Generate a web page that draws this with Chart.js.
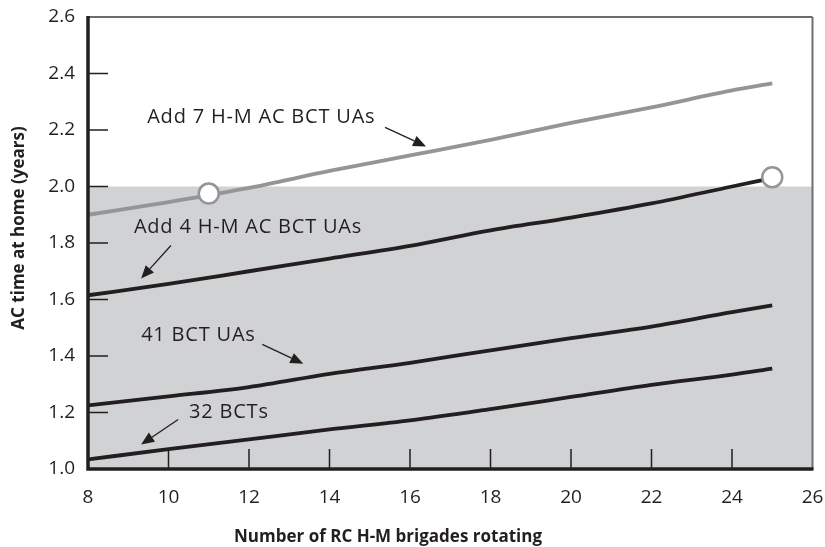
<!DOCTYPE html>
<html>
<head>
<meta charset="utf-8">
<script src="https://cdn.jsdelivr.net/npm/chart.js@4/dist/chart.umd.min.js"></script>
<style>
  html, body { margin: 0; padding: 0; background: #fff; }
  #wrap { width: 825px; height: 547px; }
</style>
</head>
<body>
<div id="wrap"><canvas id="acChart"></canvas></div>
<script>
// data
const brigades = [8, 10, 12, 14, 16, 18, 20, 22, 24, 25];
const add7 = [1.90, 1.945, 1.995, 2.055, 2.11, 2.165, 2.225, 2.28, 2.34, 2.365];
const add4 = [1.615, 1.655, 1.70, 1.745, 1.79, 1.845, 1.89, 1.94, 2.00, 2.03];
const bct41 = [1.225, 1.257, 1.29, 1.337, 1.376, 1.42, 1.463, 1.504, 1.555, 1.579];
const bct32 = [1.034, 1.07, 1.105, 1.14, 1.172, 1.212, 1.255, 1.298, 1.334, 1.355];
const markerX = [11, 25];
const markerY = [1.975, 2.033];
const xTicks = [8, 10, 12, 14, 16, 18, 20, 22, 24, 26];
const yTicks = [1.0, 1.2, 1.4, 1.6, 1.8, 2.0, 2.2, 2.4, 2.6];
const shadeRange = [1.0, 2.0];

// labels with arrows, placed in data units
const notes = [
  { text: "Add 7 H-M AC BCT UAs", x: 9.47, y: 2.244, from: [15.38, 2.209], to: [16.40, 2.142] },
  { text: "Add 4 H-M AC BCT UAs", x: 9.14, y: 1.855, from: [10.06, 1.791], to: [9.32, 1.674] },
  { text: "41 BCT UAs", x: 9.32, y: 1.473, from: [12.33, 1.441], to: [13.35, 1.373] },
  { text: "32 BCTs", x: 10.51, y: 1.20, from: [10.24, 1.175], to: [9.32, 1.087] }
];

const ink = "#231f20";
const font = "'Open Sans', sans-serif";

function pts(ys) {
  return brigades.map((b, i) => ({ x: b, y: ys[i] }));
}

function lineSet(label, ys, color) {
  return {
    label: label,
    data: pts(ys),
    borderColor: color,
    borderWidth: 3.8,
    pointRadius: 0,
    fill: false,
    cubicInterpolationMode: "monotone",
    order: 1
  };
}

const decor = {
  id: "decor",
  beforeDatasetsDraw(chart) {
    const { ctx, chartArea: a, scales: { x, y } } = chart;
    ctx.save();
    const top = y.getPixelForValue(shadeRange[1]);
    const bot = y.getPixelForValue(shadeRange[0]);
    ctx.fillStyle = "#d1d2d4";
    ctx.fillRect(a.left, top, a.right - a.left, bot - top);

    // inward tick marks
    ctx.strokeStyle = ink;
    ctx.lineWidth = 1.5;
    ctx.beginPath();
    xTicks.slice(1, -1).forEach(v => {
      const px = x.getPixelForValue(v);
      ctx.moveTo(px, a.bottom);
      ctx.lineTo(px, a.bottom - 20);
    });
    yTicks.slice(1, -1).forEach(v => {
      const py = y.getPixelForValue(v);
      ctx.moveTo(a.left, py);
      ctx.lineTo(a.left + 20, py);
    });
    ctx.stroke();
    ctx.restore();
  },
  afterDraw(chart) {
    const { ctx, chartArea: a, scales: { x, y } } = chart;
    ctx.save();
    // frame
    ctx.strokeStyle = "#3a3a3a";
    ctx.lineWidth = 1.5;
    ctx.beginPath();
    ctx.moveTo(a.left, a.top);
    ctx.lineTo(a.right, a.top);
    ctx.stroke();
    ctx.strokeStyle = "#6d6e70";
    ctx.lineWidth = 2;
    ctx.beginPath();
    ctx.moveTo(a.right, a.top);
    ctx.lineTo(a.right, a.bottom);
    ctx.stroke();
    ctx.strokeStyle = ink;
    ctx.lineWidth = 3.5;
    ctx.beginPath();
    ctx.moveTo(a.left, a.top - 1);
    ctx.lineTo(a.left, a.bottom);
    ctx.lineTo(a.right + 1, a.bottom);
    ctx.stroke();

    // annotations
    ctx.fillStyle = ink;
    ctx.strokeStyle = ink;
    ctx.font = "20px " + font;
    ctx.letterSpacing = "0.8px";
    ctx.textBaseline = "middle";
    ctx.textAlign = "left";
    notes.forEach(n => {
      ctx.fillText(n.text, x.getPixelForValue(n.x), y.getPixelForValue(n.y));
      const x0 = x.getPixelForValue(n.from[0]), y0 = y.getPixelForValue(n.from[1]);
      const x1 = x.getPixelForValue(n.to[0]), y1 = y.getPixelForValue(n.to[1]);
      const ang = Math.atan2(y1 - y0, x1 - x0);
      const hl = 13, hw = 5.5;
      const bx = x1 - hl * Math.cos(ang), by = y1 - hl * Math.sin(ang);
      ctx.lineWidth = 1.3;
      ctx.beginPath();
      ctx.moveTo(x0, y0);
      ctx.lineTo(bx, by);
      ctx.stroke();
      ctx.beginPath();
      ctx.moveTo(x1, y1);
      ctx.lineTo(bx + hw * Math.sin(ang), by - hw * Math.cos(ang));
      ctx.lineTo(bx - hw * Math.sin(ang), by + hw * Math.cos(ang));
      ctx.closePath();
      ctx.fill();
    });

    // axis titles
    ctx.letterSpacing = "0px";
    ctx.font = "bold 17px " + font;
    ctx.textAlign = "center";
    ctx.fillText("Number of RC H-M brigades rotating", 388, 537);
    ctx.translate(19, 228);
    ctx.rotate(-Math.PI / 2);
    ctx.fillText("AC time at home (years)", 0, 0);
    ctx.restore();
  }
};

new Chart(document.getElementById("acChart"), {
  type: "line",
  data: {
    datasets: [
      {
        type: "scatter",
        label: "markers",
        data: markerX.map((v, i) => ({ x: v, y: markerY[i] })),
        pointRadius: 10,
        pointBackgroundColor: "#ffffff",
        pointBorderColor: "#939598",
        pointBorderWidth: 2.5,
        showLine: false,
        order: 0
      },
      lineSet("Add 7 H-M AC BCT UAs", add7, "#939598"),
      lineSet("Add 4 H-M AC BCT UAs", add4, ink),
      lineSet("41 BCT UAs", bct41, ink),
      lineSet("32 BCTs", bct32, ink)
    ]
  },
  options: {
    responsive: true,
    maintainAspectRatio: false,
    animation: false,
    layout: { padding: { top: 17, right: 12, left: 0, bottom: 0 } },
    plugins: { legend: { display: false }, tooltip: { enabled: false } },
    scales: {
      x: {
        type: "linear",
        min: 8,
        max: 26,
        afterBuildTicks: s => { s.ticks = xTicks.map(v => ({ value: v })); },
        afterFit: s => { s.height = 78; s.paddingLeft = 0; s.paddingRight = 0; },
        grid: { display: false, drawTicks: false },
        border: { display: false },
        ticks: { padding: 17, color: ink, font: { family: font, size: 19 } }
      },
      y: {
        min: 1.0,
        max: 2.6,
        afterBuildTicks: s => { s.ticks = yTicks.map(v => ({ value: v })); },
        afterFit: s => { s.width = 88; s.paddingTop = 0; s.paddingBottom = 0; },
        grid: { display: false, drawTicks: false },
        border: { display: false },
        ticks: {
          padding: 13,
          color: ink,
          font: { family: font, size: 19 },
          callback: v => Number(v).toFixed(1)
        }
      }
    }
  },
  plugins: [decor]
});
</script>
</body>
</html>
